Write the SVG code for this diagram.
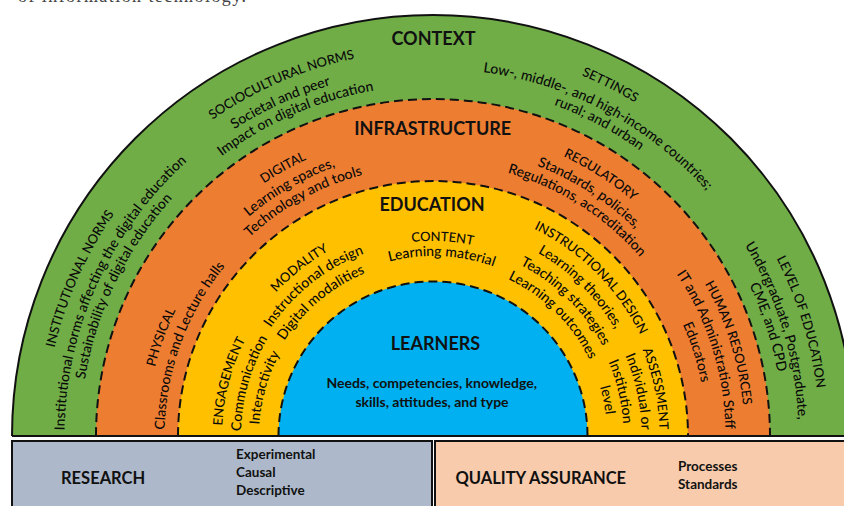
<svg xmlns="http://www.w3.org/2000/svg" width="844" height="506" viewBox="0 0 844 506">
<style>
text{font-family:Lato,"Open Sans","Liberation Sans",sans-serif;fill:#111}
.big{font-size:18px;font-weight:bold;text-anchor:middle}
.t{font-size:14px;font-weight:500;text-anchor:middle;fill:#0a0a0a}
.h{font-size:13px;font-weight:500;text-anchor:middle;fill:#0a0a0a}
.b13{font-size:14px;font-weight:bold}
.box{font-size:16.5px;font-weight:bold}
.sub{font-size:13.5px;font-weight:bold}
.dash{fill:none;stroke:#111;stroke-width:2;stroke-dasharray:9 5}
</style>
<defs>
<path id="r390" d="M48.92,503.72 A390,390 0 1 1 817.08,503.72"/>
<path id="r388" d="M50.40,503.46 A388.5,388.5 0 1 1 815.60,503.46"/>
<path id="r386" d="M52.37,503.11 A386.5,386.5 0 1 1 813.63,503.11"/>
<path id="r385" d="M53.36,502.94 A385.5,385.5 0 1 1 812.64,502.94"/>
<path id="r368" d="M70.10,499.99 A368.5,368.5 0 1 1 795.90,499.99"/>
<path id="r367" d="M71.08,499.82 A367.5,367.5 0 1 1 794.92,499.82"/>
<path id="r365" d="M73.05,499.47 A365.5,365.5 0 1 1 792.95,499.47"/>
<path id="r352" d="M85.85,497.21 A352.5,352.5 0 1 1 780.15,497.21"/>
<path id="r350" d="M87.82,496.86 A350.5,350.5 0 1 1 778.18,496.86"/>
<path id="r311" d="M126.23,490.09 A311.5,311.5 0 1 1 739.77,490.09"/>
<path id="r308" d="M129.19,489.57 A308.5,308.5 0 1 1 736.81,489.57"/>
<path id="r304" d="M133.62,488.79 A304,304 0 1 1 732.38,488.79"/>
<path id="r292" d="M144.94,486.79 A292.5,292.5 0 1 1 721.06,486.79"/>
<path id="r289" d="M147.90,486.27 A289.5,289.5 0 1 1 718.10,486.27"/>
<path id="r286" d="M150.85,485.75 A286.5,286.5 0 1 1 715.15,485.75"/>
<path id="r273" d="M163.65,483.49 A273.5,273.5 0 1 1 702.35,483.49"/>
<path id="r270" d="M166.61,482.97 A270.5,270.5 0 1 1 699.39,482.97"/>
<path id="r268" d="M168.58,482.62 A268.5,268.5 0 1 1 697.42,482.62"/>
<path id="r230" d="M206.00,476.03 A230.5,230.5 0 1 1 660.00,476.03"/>
<path id="r226" d="M209.94,475.33 A226.5,226.5 0 1 1 656.06,475.33"/>
<path id="r212" d="M223.73,472.90 A212.5,212.5 0 1 1 642.27,472.90"/>
<path id="r211" d="M225.21,472.64 A211,211 0 1 1 640.79,472.64"/>
<path id="r208" d="M227.67,472.21 A208.5,208.5 0 1 1 638.33,472.21"/>
<path id="r195" d="M240.96,469.86 A195,195 0 1 1 625.04,469.86"/>
<path id="r192" d="M243.92,469.34 A192,192 0 1 1 622.08,469.34"/>
<path id="r190" d="M245.39,469.08 A190.5,190.5 0 1 1 620.61,469.08"/>
<path id="r180" d="M255.73,467.26 A180,180 0 1 1 610.27,467.26"/>
<path id="r176" d="M259.18,466.65 A176.5,176.5 0 1 1 606.82,466.65"/>
<path id="r174" d="M261.64,466.22 A174,174 0 1 1 604.36,466.22"/>
</defs>

<text x="18" y="1.5" textLength="228" style="font-family:'Liberation Serif',serif;font-size:18px;fill:#444">of information technology.</text>

<g id="context">
<path d="M12,436 A421,421 0 0 1 854,436 Z" fill="#70ad47"/>
<text class="big" x="433.5" y="45">CONTEXT</text>
<text class="h"><textPath href="#r388" startOffset="17%">INSTITUTIONAL NORMS</textPath></text>
<text class="t"><textPath href="#r368" startOffset="17.25%">Institutional norms affecting the digital education</textPath></text>
<text class="t"><textPath href="#r352" startOffset="17.9%">Sustainability of digital education</textPath></text>
<text class="h"><textPath href="#r385" startOffset="38.35%">SOCIOCULTURAL NORMS</textPath></text>
<text class="t"><textPath href="#r365" startOffset="37.7%">Societal and peer</textPath></text>
<text class="t"><textPath href="#r350" startOffset="38.3%">Impact on digital education</textPath></text>
<text class="h"><textPath href="#r390" startOffset="63.4%">SETTINGS</textPath></text>
<text class="t"><textPath href="#r367" startOffset="64%">Low-, middle-, and high-income countries;</textPath></text>
<text class="t"><textPath href="#r352" startOffset="64%">rural; and urban</textPath></text>
<text class="h"><textPath href="#r386" startOffset="86.4%">LEVEL OF EDUCATION</textPath></text>
<text class="t"><textPath href="#r365" startOffset="86.5%">Undergraduate, Postgraduate,</textPath></text>
<text class="t"><textPath href="#r350" startOffset="86%">CME, and CPD</textPath></text>
</g>

<g id="infrastructure">
<path d="M96,436 A337,337 0 0 1 770,436 Z" fill="#ed7d31"/>
<text class="big" x="432.7" y="135">INFRASTRUCTURE</text>
<text class="h"><textPath href="#r304" startOffset="35.4%">DIGITAL</textPath></text>
<text class="t"><textPath href="#r286" startOffset="35%">Learning spaces,</textPath></text>
<text class="t"><textPath href="#r270" startOffset="35.55%">Technology and tools</textPath></text>
<text class="h"><textPath href="#r308" startOffset="66.35%">REGULATORY</textPath></text>
<text class="t"><textPath href="#r289" startOffset="66.35%">Standards, policies,</textPath></text>
<text class="t"><textPath href="#r273" startOffset="66.25%">Regulations, accreditation</textPath></text>
<text class="h"><textPath href="#r286" startOffset="15%">PHYSICAL</textPath></text>
<text class="t"><textPath href="#r268" startOffset="15.15%">Classrooms and Lecture halls</textPath></text>
<text class="h"><textPath href="#r311" startOffset="86.25%">HUMAN RESOURCES</textPath></text>
<text class="t"><textPath href="#r292" startOffset="86.25%">IT and Administration Staff</textPath></text>
<text class="t"><textPath href="#r273" startOffset="86.15%">Educators</textPath></text>
</g>

<g id="education">
<path d="M178,436 A255,255 0 0 1 688,436 Z" fill="#ffc000"/>
<text class="big" x="432" y="211">EDUCATION</text>
<text class="h"><textPath href="#r195" startOffset="51.4%">CONTENT</textPath></text>
<text class="t"><textPath href="#r180" startOffset="51.4%">Learning material</textPath></text>
<text class="h"><textPath href="#r212" startOffset="30.75%">MODALITY</textPath></text>
<text class="t"><textPath href="#r195" startOffset="30.75%">Instructional design</textPath></text>
<text class="t"><textPath href="#r176" startOffset="30%">Digital modalities</textPath></text>
<text class="h"><textPath href="#r211" startOffset="12.5%">ENGAGEMENT</textPath></text>
<text class="t"><textPath href="#r192" startOffset="13%">Communication</textPath></text>
<text class="t"><textPath href="#r174" startOffset="13%">Interactivity</textPath></text>
<text class="h"><textPath href="#r230" startOffset="72.5%">INSTRUCTIONAL DESIGN</textPath></text>
<text class="t"><textPath href="#r211" startOffset="72.35%">Learning theories,</textPath></text>
<text class="t"><textPath href="#r192" startOffset="72.25%">Teaching strategies</textPath></text>
<text class="t"><textPath href="#r174" startOffset="72.4%">Learning outcomes</textPath></text>
<text class="h"><textPath href="#r226" startOffset="89%">ASSESSMENT</textPath></text>
<text class="t"><textPath href="#r208" startOffset="88.9%">Individual or</textPath></text>
<text class="t"><textPath href="#r190" startOffset="88.35%">Institution</textPath></text>
<text class="t"><textPath href="#r174" startOffset="89.15%">level</textPath></text>
</g>

<g id="learners">
<path d="M278.5,436 A154.5,154.5 0 0 1 587.5,436 Z" fill="#00b0f0"/>
<text class="big" x="435.5" y="349.5">LEARNERS</text>
<text class="b13" x="431.7" y="388" text-anchor="middle">Needs, competencies, knowledge,</text>
<text class="b13" x="432" y="406.5" text-anchor="middle">skills, attitudes, and type</text>
</g>

<g id="boundaries">
<path class="dash" d="M96,436 A337,337 0 0 1 770,436"/>
<path class="dash" d="M178,436 A255,255 0 0 1 688,436"/>
<path class="dash" d="M278.5,436 A154.5,154.5 0 0 1 587.5,436"/>
<path d="M12,436 A421,421 0 0 1 854,436" fill="none" stroke="#111" stroke-width="2"/>
<path d="M12,436 H844" fill="none" stroke="#111" stroke-width="2"/>
</g>

<g id="research">
<rect x="12" y="441" width="420" height="80" fill="#adb9ca" stroke="#111" stroke-width="2"/>
<text class="box" x="61" y="484">RESEARCH</text>
<text class="sub" x="236" y="458.5">Experimental</text>
<text class="sub" x="236" y="476.5">Causal</text>
<text class="sub" x="236" y="494.5">Descriptive</text>
</g>

<g id="quality-assurance">
<rect x="435" y="441" width="420" height="80" fill="#f8cbad" stroke="#111" stroke-width="2"/>
<text class="box" x="455.5" y="484">QUALITY ASSURANCE</text>
<text class="sub" x="678" y="470.5">Processes</text>
<text class="sub" x="678" y="488.5">Standards</text>
</g>
</svg>
